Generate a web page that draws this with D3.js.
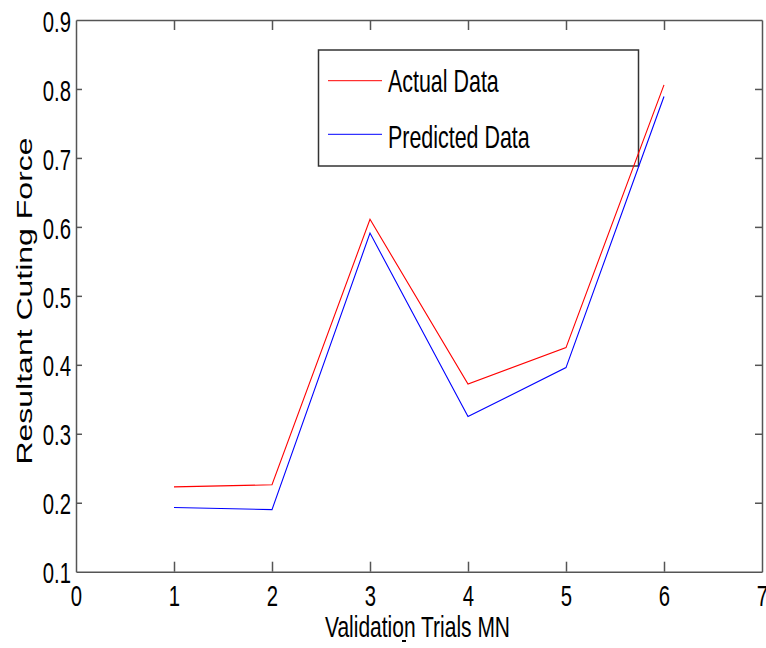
<!DOCTYPE html>
<html>
<head>
<meta charset="utf-8">
<script src="https://cdn.jsdelivr.net/npm/d3@7"></script>
<style>
  html, body { margin: 0; padding: 0; background: #fff; }
  svg { display: block; font-family: "Liberation Sans", Arial, sans-serif; }
</style>
</head>
<body>
<svg id="chart" width="766" height="648"></svg>
<script>
const trials = [1, 2, 3, 4, 5, 6];
const actualData = [0.223, 0.226, 0.611, 0.372, 0.425, 0.806];
const predictedData = [0.193, 0.190, 0.591, 0.325, 0.396, 0.789];
const xTicks = [0, 1, 2, 3, 4, 5, 6, 7];
const yTicks = [0.1, 0.2, 0.3, 0.4, 0.5, 0.6, 0.7, 0.8, 0.9];
const seriesNames = ["Actual Data", "Predicted Data"];
const seriesColors = ["#ff0000", "#0000ff"];

(function () {
const svg = d3.select("#chart");
const pLeft = 76, pRight = 762, pTop = 20, pBottom = 571.7;
const SX = 0.7; // horizontal compression of the original picture

const x = d3.scaleLinear().domain([0, 7]).range([pLeft, pRight]);
const y = d3.scaleLinear().domain([0.1, 0.9]).range([pBottom, pTop]);

const axisColor = "#555";

const gx = svg.append("g").attr("transform", `translate(0,${pBottom})`)
  .call(d3.axisBottom(x).tickValues(xTicks).tickSizeInner(-10).tickSizeOuter(0).tickFormat(d3.format("d")));
const gy = svg.append("g").attr("transform", `translate(${pLeft},0)`)
  .call(d3.axisLeft(y).tickValues(yTicks).tickSizeInner(-6).tickSizeOuter(0).tickFormat(d3.format(".1f")));
const gt = svg.append("g").attr("transform", `translate(0,${pTop})`)
  .call(d3.axisTop(x).tickValues(xTicks).tickSizeInner(-10).tickSizeOuter(0).tickFormat(""));
const gr = svg.append("g").attr("transform", `translate(${pRight},0)`)
  .call(d3.axisRight(y).tickValues(yTicks).tickSizeInner(-7).tickSizeOuter(0).tickFormat(""));

[gx, gy, gt, gr].forEach(g => {
  g.select(".domain").attr("stroke", axisColor).attr("stroke-width", 1.5);
  g.selectAll(".tick line").attr("stroke", axisColor).attr("stroke-width", 1.5);
});
gx.selectAll(".tick line").filter(d => d === 0 || d === 7).remove();
gt.selectAll(".tick line").filter(d => d === 0 || d === 7).remove();
gy.selectAll(".tick line").filter(d => d === 0.1 || d === 0.9).remove();
gr.selectAll(".tick line").filter(d => d === 0.1 || d === 0.9).remove();

gx.selectAll(".tick text")
  .attr("x", 0).attr("y", 0).attr("dy", null)
  .attr("fill", "#000")
  .attr("font-size", 29)
  .attr("font-family", "Liberation Sans, Arial, sans-serif")
  .attr("text-anchor", "middle")
  .attr("transform", `translate(0,34.5) scale(${SX},1)`);

gy.selectAll(".tick text")
  .attr("x", 0).attr("y", 0).attr("dy", "0.35em")
  .attr("fill", "#000")
  .attr("font-size", 29)
  .attr("font-family", "Liberation Sans, Arial, sans-serif")
  .attr("text-anchor", "end")
  .attr("transform", `translate(-5,1) scale(${SX},1)`);

svg.append("text")
  .attr("transform", `translate(417.5,637) scale(${SX},1)`)
  .attr("text-anchor", "middle")
  .attr("font-size", 30)
  .attr("fill", "#000")
  .text("Validation Trials MN");
svg.append("rect").attr("x", 402).attr("y", 640).attr("width", 4).attr("height", 2).attr("fill", "#000");

svg.append("text")
  .attr("transform", `translate(32,301) rotate(-90) scale(1,${SX})`)
  .attr("text-anchor", "middle")
  .attr("font-size", 32)
  .attr("fill", "#000")
  .text("Resultant Cuting Force");

const leg = svg.append("g");
leg.append("rect")
  .attr("x", 318.5).attr("y", 50).attr("width", 320).attr("height", 116)
  .attr("fill", "none").attr("stroke", "#333").attr("stroke-width", 1.5);
const legY = [80.7, 134.3];
const legBase = [92, 147.5];
seriesNames.forEach((name, i) => {
  leg.append("line")
    .attr("x1", 328).attr("x2", 382).attr("y1", legY[i]).attr("y2", legY[i])
    .attr("stroke", seriesColors[i]).attr("stroke-width", 1);
  leg.append("text")
    .attr("transform", `translate(388,${legBase[i]}) scale(0.67,1)`)
    .attr("font-size", 32)
    .attr("fill", "#000")
    .text(name);
});

const line = d3.line().x((d, i) => x(trials[i])).y(d => y(d));
[actualData, predictedData].forEach((data, i) => {
  svg.append("path")
    .datum(data)
    .attr("d", line)
    .attr("fill", "none")
    .attr("stroke", seriesColors[i])
    .attr("stroke-width", 1.1);
});
})();
</script>
</body>
</html>
